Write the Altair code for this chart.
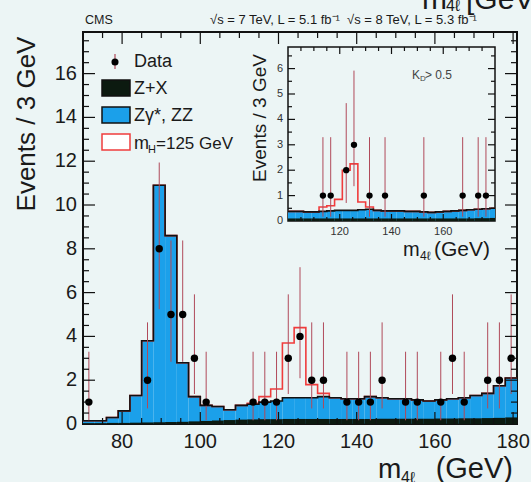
import altair as alt
import pandas as pd

# ---------------- data ----------------
# main plot: 3 GeV bins from 70 to 181 GeV
bin_lo = [70, 73, 76, 79, 82, 85, 88, 91, 94, 97, 100, 103, 106, 109, 112, 115, 118, 121, 124,
          127, 130, 133, 136, 139, 142, 145, 148, 151, 154, 157, 160, 163, 166, 169, 172, 175, 178]
bin_hi = [73, 76, 79, 82, 85, 88, 91, 94, 97, 100, 103, 106, 109, 112, 115, 118, 121, 124, 127,
          130, 133, 136, 139, 142, 145, 148, 151, 154, 157, 160, 163, 166, 169, 172, 175, 178, 181]
# Z+X + ZZ stacked total
bg_total = [0.15, 0.15, 0.3, 0.6, 1.3, 3.8, 10.9, 8.6, 2.8, 1.25, 0.85, 0.8, 0.65, 0.85, 0.9, 1.0,
            1.05, 1.2, 1.2, 1.2, 1.25, 1.2, 1.15, 1.15, 1.25, 1.2, 1.15, 1.15, 1.1, 1.05, 1.1, 1.15,
            1.2, 1.3, 1.4, 1.75, 2.1]
# Z+X alone
zx_bg = [0.04, 0.04, 0.05, 0.05, 0.06, 0.07, 0.08, 0.09, 0.1, 0.12, 0.14, 0.16, 0.18, 0.2, 0.21, 0.22,
         0.22, 0.23, 0.23, 0.23, 0.23, 0.23, 0.23, 0.23, 0.23, 0.24, 0.24, 0.24, 0.24, 0.24, 0.25, 0.25,
         0.26, 0.26, 0.27, 0.28, 0.3]
# background + mH = 125 GeV signal
sig_total = [0.15, 0.15, 0.3, 0.6, 1.3, 3.8, 10.9, 8.6, 2.8, 1.25, 0.85, 0.8, 0.65, 0.85, 0.95, 1.25,
             1.6, 3.7, 4.4, 1.8, 1.4, 1.2, 1.15, 1.15, 1.25, 1.2, 1.15, 1.15, 1.1, 1.05, 1.1, 1.15,
             1.2, 1.3, 1.4, 1.75, 2.1]

data_mass = [71.5, 86.5, 89.5, 92.5, 95.5, 98.5, 101.5, 113.5, 116.5, 119.5, 122.5, 125.5, 128.5,
             131.5, 137.5, 140.5, 143.5, 146.5, 152.5, 155.5, 161.5, 164.5, 167.5, 173.5, 176.5, 179.5]
data_count = [1, 2, 8, 5, 5, 3, 1, 1, 1, 1, 3, 4, 2, 2, 1, 1, 1, 2, 1, 1, 1, 3, 1, 2, 2, 3]
data_err_lo = [0.17, 0.71, 5.24, 2.84, 2.84, 1.37, 0.17, 0.17, 0.17, 0.17, 1.37, 2.09, 0.71, 0.71,
               0.17, 0.17, 0.17, 0.71, 0.17, 0.17, 0.17, 1.37, 0.17, 0.71, 0.71, 1.37]
data_err_hi = [3.3, 4.64, 11.94, 8.38, 8.38, 5.92, 3.3, 3.3, 3.3, 3.3, 5.92, 7.16, 4.64, 4.64,
               3.3, 3.3, 3.3, 4.64, 3.3, 3.3, 3.3, 5.92, 3.3, 4.64, 4.64, 5.92]

# inset (K_D > 0.5)
in_lo = [100, 103, 106, 109, 112, 115, 118, 121, 124, 127, 130, 133, 136, 139, 142, 145, 148, 151,
         154, 157, 160, 163, 166, 169, 172, 175, 178]
in_hi = [103, 106, 109, 112, 115, 118, 121, 124, 127, 130, 133, 136, 139, 142, 145, 148, 151, 154,
         157, 160, 163, 166, 169, 172, 175, 178, 181]
in_bg_total = [0.38, 0.38, 0.36, 0.36, 0.38, 0.4, 0.42, 0.42, 0.42, 0.44, 0.46, 0.42, 0.4, 0.4, 0.4,
               0.38, 0.38, 0.36, 0.34, 0.36, 0.38, 0.4, 0.42, 0.44, 0.46, 0.48, 0.5]
in_zx = [0.1, 0.1, 0.1, 0.1, 0.1, 0.1, 0.1, 0.1, 0.1, 0.1, 0.1, 0.1, 0.1, 0.1, 0.1, 0.1, 0.1, 0.1,
         0.1, 0.1, 0.1, 0.1, 0.1, 0.1, 0.11, 0.11, 0.12]
in_sig_total = [0.38, 0.38, 0.36, 0.36, 0.55, 0.6, 0.85, 2.0, 2.25, 0.75, 0.55, 0.42, 0.4, 0.4, 0.4,
                0.38, 0.38, 0.36, 0.34, 0.36, 0.38, 0.4, 0.42, 0.44, 0.46, 0.48, 0.5]
in_mass = [113.5, 116.5, 122.5, 125.5, 131.5, 137.5, 152.5, 167.5, 173.5, 176.5]
in_count = [1, 1, 2, 3, 1, 1, 1, 1, 1, 1]
in_err_lo = [0.17, 0.17, 0.71, 1.37, 0.17, 0.17, 0.17, 0.17, 0.17, 0.17]
in_err_hi = [3.3, 3.3, 4.64, 5.92, 3.3, 3.3, 3.3, 3.3, 3.3, 3.3]

main_x_labels = [80, 100, 120, 140, 160, 180]
main_y_labels = [0, 2, 4, 6, 8, 10, 12, 14, 16]
in_x_labels = [120, 140, 160]
in_y_labels = [0, 1, 2, 3, 4, 5, 6]

# ---------------- styling ----------------
BG = "#ecf5f5"
BLUE = "#1ba0ea"
DARK = "#0c1a10"
RED = "#f03c3c"
ERR = "#b04a5a"
FONT = "Liberation Sans"
W, H = 434, 392
IX0, IX1, IY0, IY1 = 205, 412, 189, 15   # inset frame in plot pixels

xs = alt.Scale(domain=[70, 181], nice=False, zero=False)
ys = alt.Scale(domain=[0, 17.9], nice=False, zero=False)
ixs = alt.Scale(domain=[100, 180], range=[IX0, IX1], nice=False, zero=False, clamp=True)
iys = alt.Scale(domain=[0, 6.85], range=[IY0, IY1], nice=False, zero=False, clamp=True)

one = alt.Data(values=[{}])


def hist_df(lo, hi, tot, zx, sig):
    return pd.DataFrame({"lo": lo, "hi": hi, "tot": tot, "zx": zx, "sig": sig})


def step_df(lo, hi, vals):
    return pd.DataFrame({"x": lo + [hi[-1]], "y": vals + [vals[-1]]})


def txt(text, x, y, size, align="left", baseline="alphabetic", angle=0, color="#1a1a1a"):
    kw = dict(text=text, fontSize=size, font=FONT, align=align, baseline=baseline, color=color)
    if angle:
        kw["angle"] = angle
    return alt.Chart(one).mark_text(**kw).encode(x=alt.value(x), y=alt.value(y))


def histo_layers(lo, hi, tot, zx, sig, sx, sy):
    hd = hist_df(lo, hi, tot, zx, sig)
    blue = alt.Chart(hd).mark_rect(color=BLUE).encode(
        x=alt.X("lo:Q", scale=sx, axis=None), x2="hi:Q",
        y=alt.Y("tot:Q", scale=sy, axis=None), y2=alt.datum(0))
    dark = alt.Chart(hd).mark_rect(color=DARK).encode(
        x=alt.X("lo:Q", scale=sx, axis=None), x2="hi:Q",
        y=alt.Y("zx:Q", scale=sy, axis=None), y2=alt.datum(0))
    red = alt.Chart(step_df(lo, hi, sig)).mark_line(color=RED, strokeWidth=1.6, interpolate="step-after").encode(
        x=alt.X("x:Q", scale=sx, axis=None), y=alt.Y("y:Q", scale=sy, axis=None))
    outline = alt.Chart(step_df(lo, hi, tot)).mark_line(color="#111111", strokeWidth=1.6, interpolate="step-after").encode(
        x=alt.X("x:Q", scale=sx, axis=None), y=alt.Y("y:Q", scale=sy, axis=None))
    return [blue, dark, red, outline]


def data_layers(mass, cnt, elo, ehi, sx, sy, size):
    dd = pd.DataFrame({"m": mass, "n": cnt, "lo": elo, "hi": ehi})
    err = alt.Chart(dd).mark_rule(color=ERR, strokeWidth=1).encode(
        x=alt.X("m:Q", scale=sx, axis=None), y=alt.Y("lo:Q", scale=sy, axis=None), y2="hi:Q")
    pts = alt.Chart(dd).mark_circle(color="#000000", opacity=1, size=size).encode(
        x=alt.X("m:Q", scale=sx, axis=None), y=alt.Y("n:Q", scale=sy, axis=None))
    return [err, pts]


def tick_layers(xmaj, xmin, ymaj, ymin, sx, sy, x0, x1, y0, y1, lmaj, lmin):
    out = []
    for vals, ln in ((xmaj, lmaj), (xmin, lmin)):
        d = pd.DataFrame({"v": vals})
        out.append(alt.Chart(d).mark_rule(color="#111111", strokeWidth=1.2).encode(
            x=alt.X("v:Q", scale=sx, axis=None), y=alt.value(y0), y2=alt.value(y0 - ln)))
        out.append(alt.Chart(d).mark_rule(color="#111111", strokeWidth=1.2).encode(
            x=alt.X("v:Q", scale=sx, axis=None), y=alt.value(y1), y2=alt.value(y1 + ln)))
    for vals, ln in ((ymaj, lmaj), (ymin, lmin)):
        d = pd.DataFrame({"v": vals})
        out.append(alt.Chart(d).mark_rule(color="#111111", strokeWidth=1.2).encode(
            y=alt.Y("v:Q", scale=sy, axis=None), x=alt.value(x0), x2=alt.value(x0 + ln)))
        out.append(alt.Chart(d).mark_rule(color="#111111", strokeWidth=1.2).encode(
            y=alt.Y("v:Q", scale=sy, axis=None), x=alt.value(x1), x2=alt.value(x1 - ln)))
    return out


def label_layers(xvals, yvals, sx, sy, size, ypix, xpix, color):
    lx = alt.Chart(pd.DataFrame({"v": xvals})).mark_text(
        font=FONT, fontSize=size, color=color, baseline="top").encode(
        x=alt.X("v:Q", scale=sx, axis=None), y=alt.value(ypix), text="v:Q")
    ly = alt.Chart(pd.DataFrame({"v": yvals})).mark_text(
        font=FONT, fontSize=size, color=color, baseline="middle", align="right").encode(
        y=alt.Y("v:Q", scale=sy, axis=None), x=alt.value(xpix), text="v:Q")
    return [lx, ly]


# ---------------- main panel ----------------
main_xmin = [v for v in range(75, 181, 5) if v % 20 != 0]
main_ymaj = [2, 4, 6, 8, 10, 12, 14, 16]
main_ymin = [v / 2 for v in range(1, 36) if v % 4 != 0]

main_parts = histo_layers(bin_lo, bin_hi, bg_total, zx_bg, sig_total, xs, ys)
main_parts += data_layers(data_mass, data_count, data_err_lo, data_err_hi, xs, ys, 55)
main_parts += tick_layers(main_x_labels, main_xmin, main_ymaj, main_ymin, xs, ys, 0, W, H, 0, 12, 6)
main_parts += label_layers(main_x_labels, main_y_labels, xs, ys, 20, H + 8, -6, "#1a1a1a")

# legend
leg_rows = [
    alt.Chart(one).mark_rule(color=ERR, strokeWidth=1.2).encode(x=alt.value(32), y=alt.value(22), y2=alt.value(37)),
    alt.Chart(one).mark_circle(color="#000000", opacity=1, size=50).encode(x=alt.value(32), y=alt.value(30)),
    txt("Data", 51, 30, 18, baseline="middle"),
    alt.Chart(one).mark_rect(color=DARK, stroke="#111111", strokeWidth=1.5).encode(
        x=alt.value(19), x2=alt.value(47), y=alt.value(48), y2=alt.value(64)),
    txt("Z+X", 51, 57, 18, baseline="middle"),
    alt.Chart(one).mark_rect(color=BLUE, stroke="#111111", strokeWidth=1.5).encode(
        x=alt.value(19), x2=alt.value(47), y=alt.value(75), y2=alt.value(91)),
    txt("Zγ*, ZZ", 51, 84, 18, baseline="middle"),
    alt.Chart(one).mark_rect(fill="#ffffff", stroke=RED, strokeWidth=1.5).encode(
        x=alt.value(19), x2=alt.value(47), y=alt.value(102), y2=alt.value(118)),
    txt("m", 51, 117, 18),
    txt("H", 65, 121, 11),
    txt("=125 GeV", 73, 117, 17),
]

main_texts = [
    txt("CMS", 2, -8, 12.5),
    txt("√s = 7 TeV, L = 5.1 fb⁻¹", 127, -8, 13),
    txt("√s = 8 TeV, L = 5.3 fb⁻¹", 264, -8, 13),
    txt("Events / 3 GeV", -56, 92, 26, align="center", baseline="middle", angle=270),
    txt("m", 295, 446, 28),
    txt("4ℓ", 318, 451, 16),
    txt("(GeV)", 430, 446, 29, align="right"),
    txt("m", 339, -23, 30),
    txt("4ℓ", 363, -21, 16),
    txt("[GeV]", 383, -23, 30),
]

main = alt.layer(*(main_parts + leg_rows + main_texts))

# ---------------- inset ----------------
in_xmin = [v for v in range(105, 180, 5) if v % 20 != 0]
in_ymaj = [1, 2, 3, 4, 5, 6]
in_ymin = [v / 2 for v in range(1, 14) if v % 2 != 0]

in_frame = alt.Chart(one).mark_rect(fill=BG, stroke="#111111", strokeWidth=1.5).encode(
    x=alt.value(IX0), x2=alt.value(IX1), y=alt.value(IY1), y2=alt.value(IY0))
in_parts = [in_frame]
in_parts += histo_layers(in_lo, in_hi, in_bg_total, in_zx, in_sig_total, ixs, iys)
in_parts += data_layers(in_mass, in_count, in_err_lo, in_err_hi, ixs, iys, 40)
in_parts += tick_layers(in_x_labels, in_xmin, in_ymaj, in_ymin, ixs, iys, IX0, IX1, IY0, IY1, 7, 4)
in_parts += label_layers(in_x_labels, in_y_labels, ixs, iys, 11, IY0 + 5, IX0 - 5, "#333333")
in_parts += [
    txt("K", 329, 43, 12, baseline="middle", color="#444444"),
    txt("D", 337, 47, 8, baseline="middle", color="#444444"),
    txt("> 0.5", 342, 43, 12, baseline="middle", color="#444444"),
    txt("Events / 3 GeV", 177, 86, 19, align="center", baseline="middle", angle=270),
    txt("m", 320, 224, 20),
    txt("4ℓ", 337, 228, 12),
    txt("(GeV)", 351, 224, 21),
]
inset = alt.layer(*in_parts)

chart = alt.layer(main, inset).resolve_scale(x="independent", y="independent").properties(
    width=W, height=H, autosize=alt.AutoSizeParams(type="none"),
    padding={"left": 83, "top": 32, "right": 14, "bottom": 58},
    background=BG,
).configure_view(stroke="#111111", strokeWidth=2)

chart.save("out.html", embed_options={"renderer": "svg", "actions": False})
